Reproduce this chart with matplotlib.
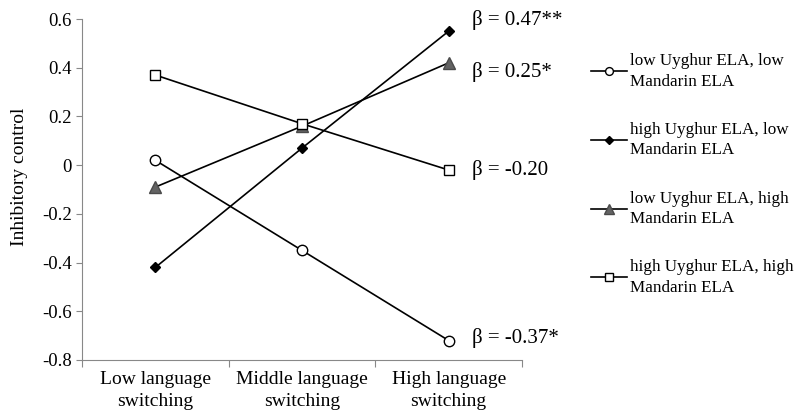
import matplotlib.pyplot as plt
from matplotlib.ticker import FixedLocator, NullFormatter

plt.rcParams['font.family'] = ['Liberation Serif', 'DejaVu Serif']

categories = ["Low language\nswitching", "Middle language\nswitching", "High language\nswitching"]
series_names = ["low Uyghur ELA, low\nMandarin ELA",
                "high Uyghur ELA, low\nMandarin ELA",
                "low Uyghur ELA, high\nMandarin ELA",
                "high Uyghur ELA, high\nMandarin ELA"]
low_low = [0.02, -0.35, -0.72]
high_low = [-0.42, 0.07, 0.55]
low_high = [-0.09, 0.16, 0.42]
high_high = [0.37, 0.17, -0.02]
beta_labels = ["β = -0.37*", "β = 0.47**", "β = 0.25*", "β = -0.20"]
beta_y = [-0.71, 0.596, 0.382, -0.02]

fig = plt.figure(figsize=(7.95, 4.16), dpi=100)
ax = fig.add_axes([82 / 795, 1 - 360 / 416, 440 / 795, 341 / 416])

x = [0.5, 1.5, 2.5]
styles = [
    dict(marker='o', mfc='white', mec='black', ms=7.5),
    dict(marker='D', mfc='black', mec='black', ms=5.5),
    dict(marker='^', mfc='#636363', mec='#4a4a4a', ms=9),
    dict(marker='s', mfc='white', mec='black', ms=7),
]
handles = []
for vals, st, name in zip([low_low, high_low, low_high, high_high], styles, series_names):
    h, = ax.plot(x, vals, color='black', lw=1.2, mew=1.0, label=name, **st)
    handles.append(h)

for lab, yv in zip(beta_labels, beta_y):
    ax.annotate(lab, xy=(2.5, yv), xytext=(17, 0), textcoords='offset points',
                ha='left', va='center', fontsize=15, annotation_clip=False)

ax.set_xlim(0, 3)
ax.set_ylim(-0.8, 0.6)
ax.set_yticks([-0.8, -0.6, -0.4, -0.2, 0, 0.2, 0.4, 0.6])
ax.set_yticklabels(['-0.8', '-0.6', '-0.4', '-0.2', '0', '0.2', '0.4', '0.6'])
ax.xaxis.set_major_locator(FixedLocator([0, 1, 2, 3]))
ax.xaxis.set_major_formatter(NullFormatter())
ax.xaxis.set_minor_locator(FixedLocator(x))
ax.set_xticklabels(categories, minor=True, linespacing=1.4)
ax.tick_params(axis='x', which='minor', length=0, pad=8, labelsize=14)
ax.tick_params(axis='x', which='major', length=5, color='#888888')
ax.tick_params(axis='y', length=4, color='#888888', labelsize=13.5)
for s in ['top', 'right']:
    ax.spines[s].set_visible(False)
for s in ['left', 'bottom']:
    ax.spines[s].set_color('#888888')
ax.set_ylabel("Inhibitory control", fontsize=14)
ax.yaxis.set_label_coords(-0.122, 0.537)

leg = fig.legend(handles=handles, loc='upper left', bbox_to_anchor=(576 / 795, 1 - 38 / 416),
                 frameon=False, fontsize=12.3, handlelength=2.1, handletextpad=0.15,
                 labelspacing=1.9, markerscale=0.75)
for t in leg.get_texts():
    t.set_linespacing(1.35)

fig.savefig("out.png", dpi=100)
